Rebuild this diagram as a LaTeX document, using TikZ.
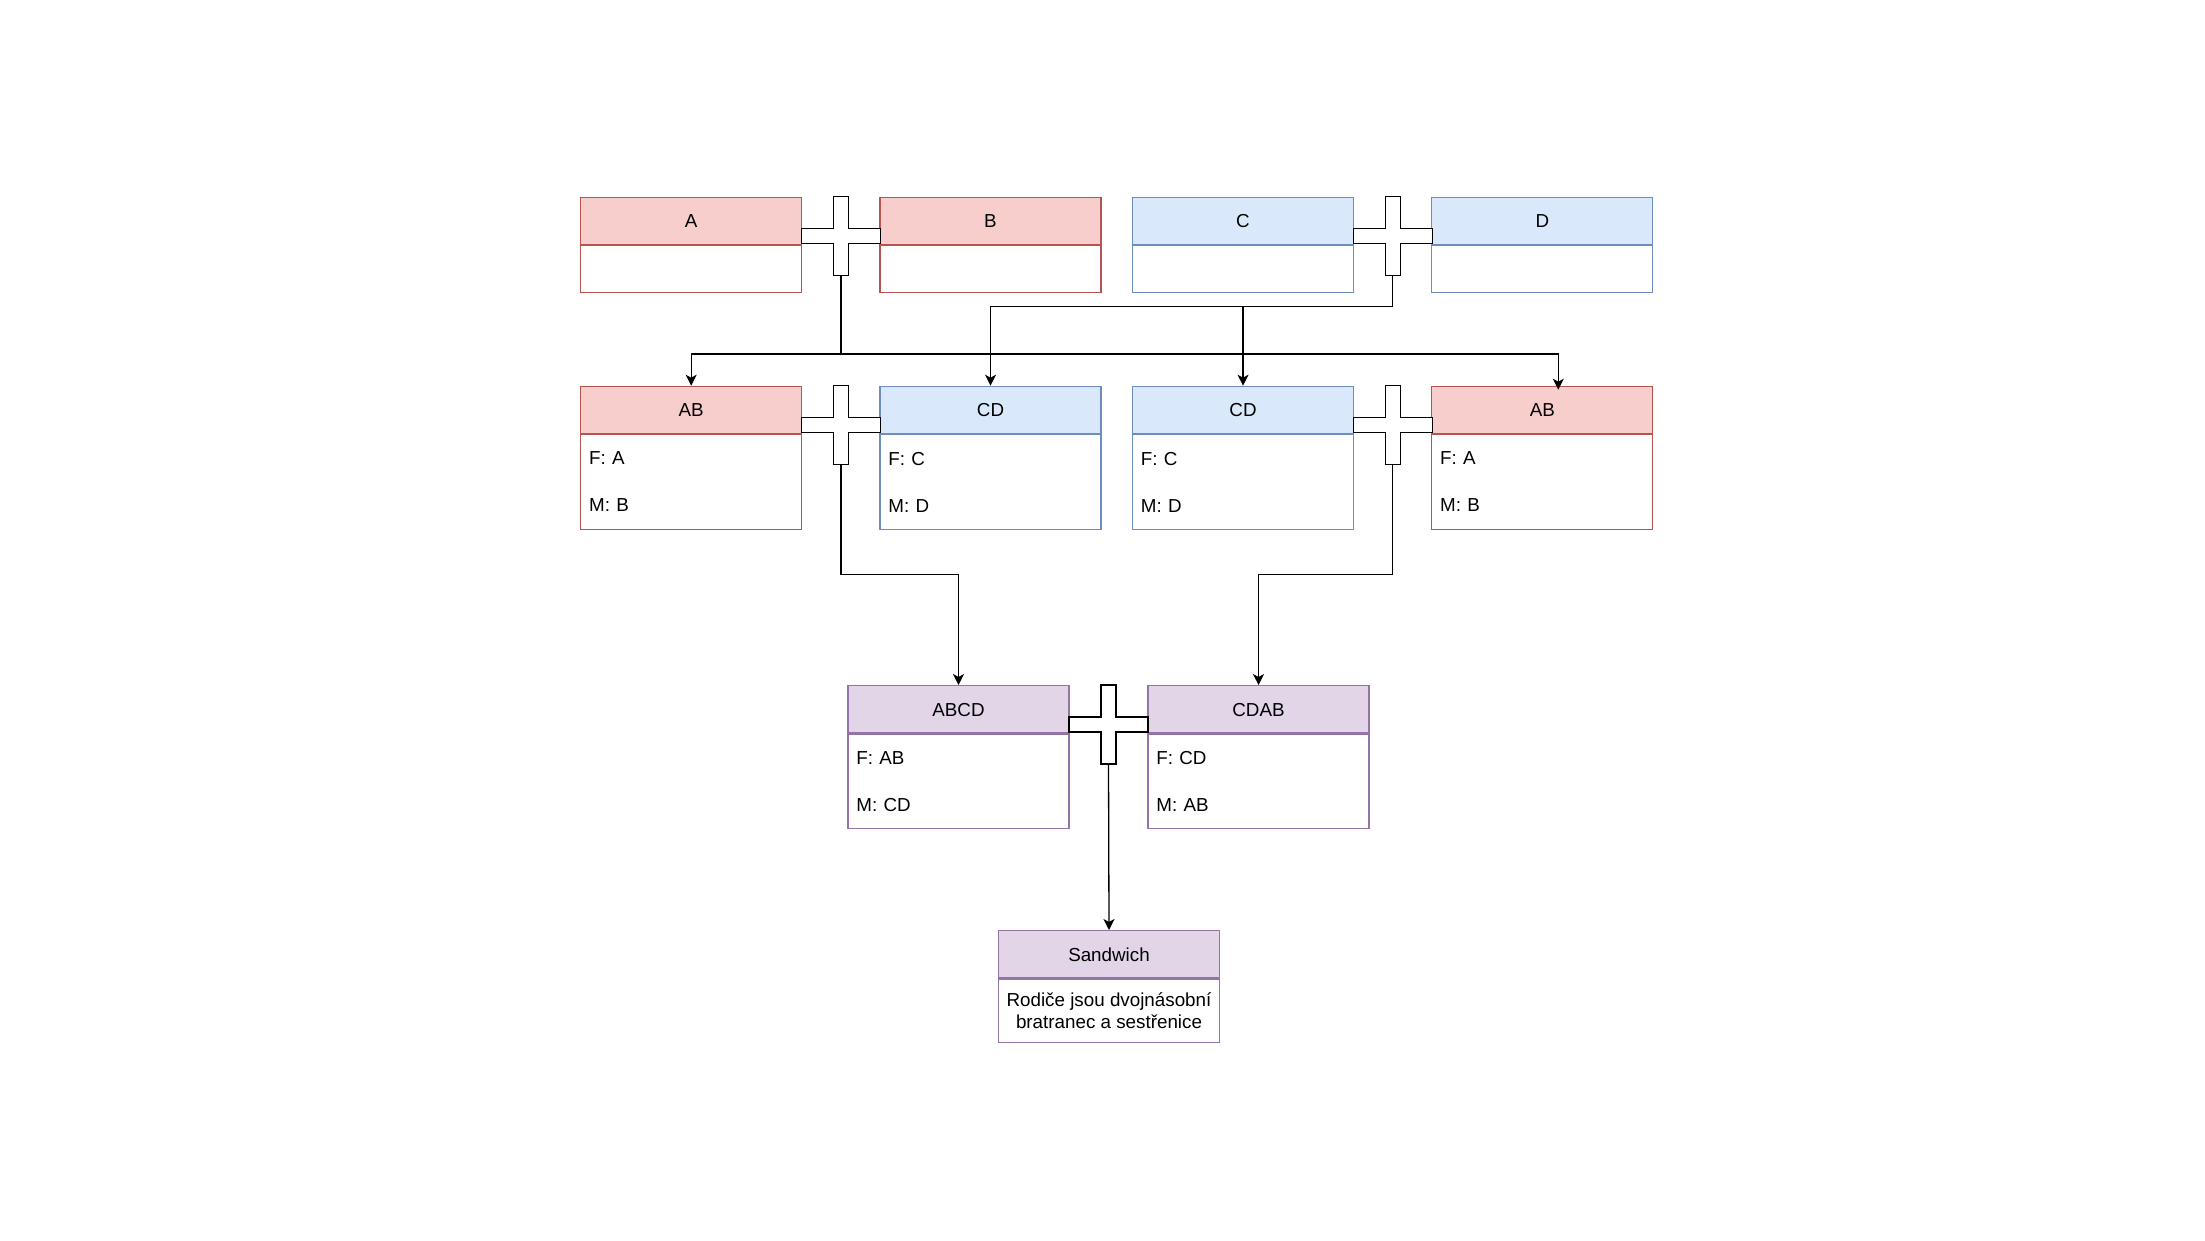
\documentclass[tikz,border=0pt]{standalone}
\usepackage{fontspec}
\setmainfont{Liberation Sans}
\usetikzlibrary{positioning,calc}
\usetikzlibrary{arrows.meta}

\definecolor{redfill}{HTML}{F8CECC}
\definecolor{redline}{HTML}{B85450}
\definecolor{bluefill}{HTML}{DAE8FC}
\definecolor{blueline}{HTML}{6C8EBF}
\definecolor{purplefill}{HTML}{E1D5E7}
\definecolor{purpleline}{HTML}{9673A6}

\tikzset{
  famhead/.style={draw=#1line, fill=#1fill, line width=1.2, minimum width=221, minimum height=47.3,
    inner sep=0, text height=13.5, text depth=0, anchor=north},
  fambody/.style={draw=#1line, fill=white, line width=1.2, minimum width=221, minimum height=47,
    inner sep=0, anchor=north},
  tworows/.style={minimum height=94.4, text width=204.2, inner xsep=8.4, align=left,
    font=\fontsize{18.8}{47}\selectfont},
  link/.style={draw=black, line width=1.3, -{Stealth[length=11, width=11, inset=3]}},
  pics/cross/.style={code={
    \draw[fill=white, line width=1.3] (-7.5,-39.5) -- (7.5,-39.5) -- (7.5,-7.5) -- (39.5,-7.5)
      -- (39.5,7.5) -- (7.5,7.5) -- (7.5,39.5) -- (-7.5,39.5) -- (-7.5,7.5) -- (-39.5,7.5)
      -- (-39.5,-7.5) -- (-7.5,-7.5) -- cycle;
    \coordinate (-bot) at (0,39.5);
  }}
}

\begin{document}
\begin{tikzpicture}[x=1pt, y=-1pt, font=\fontsize{18.8}{22.5}\selectfont]
  \useasboundingbox (0,0) rectangle (2205,1241);

  % grandparents
  \node[famhead=red]  (hA) at (691.2, 196.7) {A};
  \node[famhead=red]  (hB) at (990.5, 196.7) {B};
  \node[famhead=blue] (hC) at (1243, 196.7)  {C};
  \node[famhead=blue] (hD) at (1542.3, 196.7) {D};
  \node[fambody=red]  (bA) at (hA.south) {};
  \node[fambody=red]  (bB) at (hB.south) {};
  \node[fambody=blue] (bC) at (hC.south) {};
  \node[fambody=blue] (bD) at (hD.south) {};

  % parents
  \node[famhead=red]  (hAB1) at (691.2, 385.7) {AB};
  \node[famhead=blue] (hCD1) at (990.5, 385.7) {CD};
  \node[famhead=blue] (hCD2) at (1243, 385.7)  {CD};
  \node[famhead=red]  (hAB2) at (1542.3, 385.7) {AB};
  \node[fambody=red, tworows]  (bAB1) at (hAB1.south) {F: A\\M: B};
  \node[fambody=blue, tworows] (bCD1) at (hCD1.south) {F: C\\M: D};
  \node[fambody=blue, tworows] (bCD2) at (hCD2.south) {F: C\\M: D};
  \node[fambody=red, tworows]  (bAB2) at (hAB2.south) {F: A\\M: B};

  % children
  \node[famhead=purple] (hABCD) at (958.5, 685)  {ABCD};
  \node[famhead=purple] (hCDAB) at (1258.5, 685) {CDAB};
  \node[fambody=purple, tworows] (bABCD) at (hABCD.south) {F: AB\\M: CD};
  \node[fambody=purple, tworows] (bCDAB) at (hCDAB.south) {F: CD\\M: AB};

  \node[famhead=purple] (hSand) at (1109, 930) {Sandwich};
  \node[fambody=purple, minimum height=63, align=center] (bSand) at (hSand.south)
    {Rodiče jsou dvojnásobní\\bratranec a sestřenice};

  % marriages
  \pic (x1) at ($(hA.north east)!.5!(hB.north west)+(0,39.5)$) {cross};
  \pic (x2) at ($(hC.north east)!.5!(hD.north west)+(0,39.5)$) {cross};
  \pic (x3) at ($(hAB1.north east)!.5!(hCD1.north west)+(0,39.5)$) {cross};
  \pic (x4) at ($(hCD2.north east)!.5!(hAB2.north west)+(0,39.5)$) {cross};
  \pic (x5) at ($(hABCD.north east)!.5!(hCDAB.north west)+(0,39.5)$) {cross};

  % descent
  \coordinate (j1) at ($(x1-bot)+(0,78.3)$);
  \coordinate (j2) at ($(x2-bot)+(0,31)$);
  \draw[link] (x1-bot) -- (j1) -| (hAB1.north);
  \draw[link] (j1) -| ([xshift=16pt, yshift=-4pt]hAB2.north);
  \draw[link] (x2-bot) -- (j2) -| (hCD1.north);
  \draw[link] (hCD2.north |- j2) -- (hCD2.north);
  \draw[link] (x3-bot) -- ++(0,110) -| (hABCD.north);
  \draw[link] (x4-bot) -- ++(0,110) -| (hCDAB.north);
  \draw[link] (x5-bot) -- (hSand.north);
\end{tikzpicture}
\end{document}
